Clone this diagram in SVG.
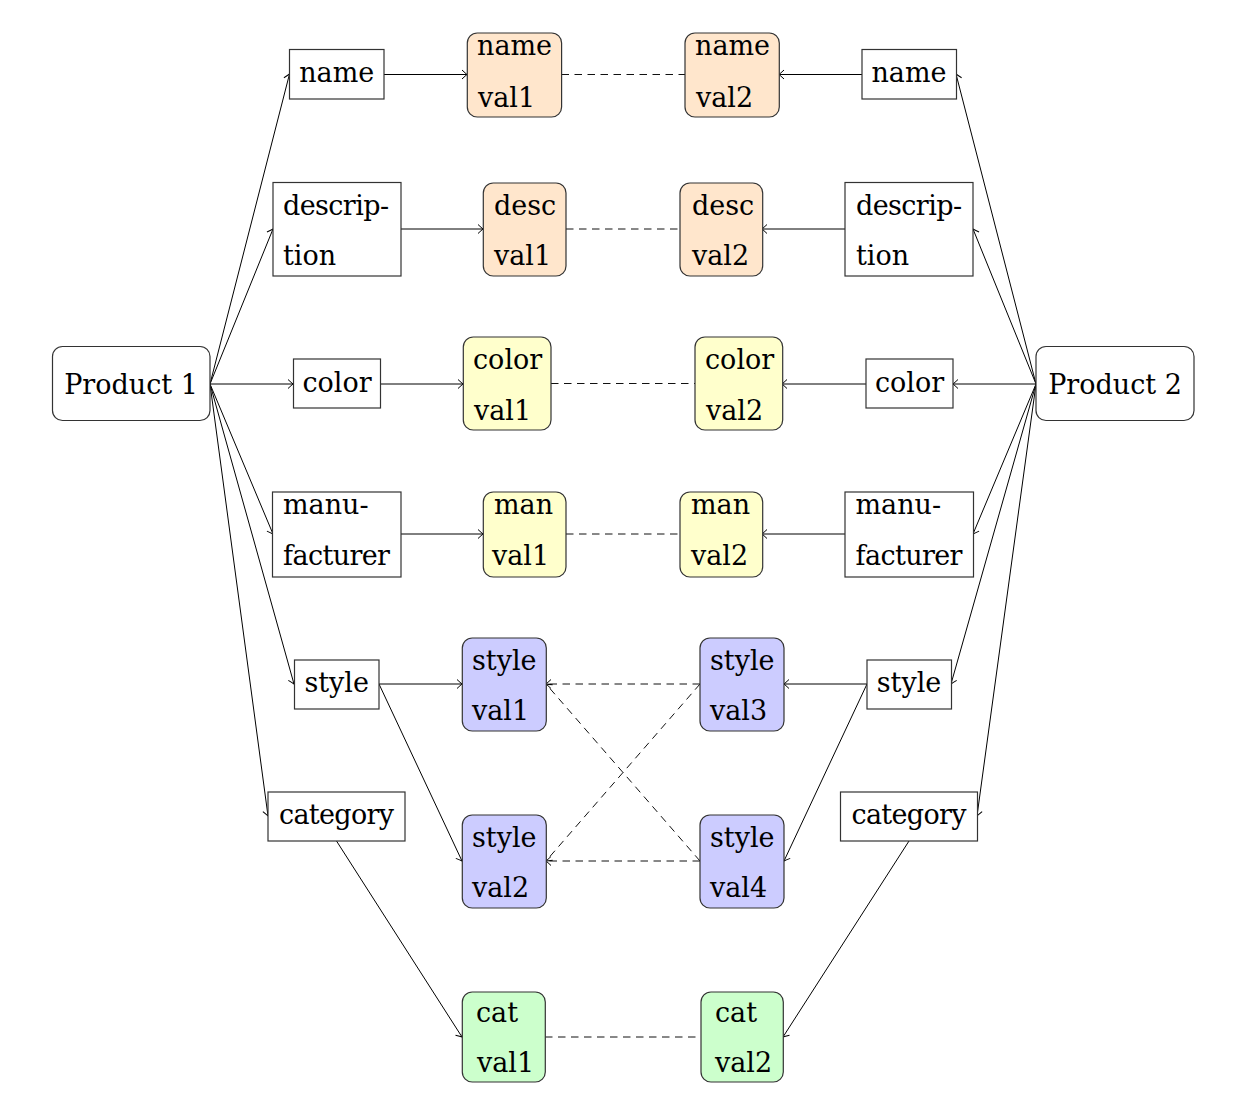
<svg xmlns="http://www.w3.org/2000/svg" width="1248" height="1112" viewBox="0 0 1248 1112">
<style>
text{font-family:'DejaVu Serif',serif;font-size:27px;fill:#000}
.c{text-anchor:middle}
.box{fill:#fff;stroke:#333;stroke-width:1.2}
.rnd{stroke:#333;stroke-width:1.2}
.or{fill:#ffe6cc}.ye{fill:#ffffcc}.bl{fill:#ccccff}.gr{fill:#ccffcc}.wh{fill:#fff}
.e{fill:none;stroke:#000;stroke-width:1}
.a{marker-end:url(#to)}
.d{fill:none;stroke:#111;stroke-width:1;stroke-dasharray:7.5 5.5}
</style>
<defs>
<marker id="to" markerUnits="userSpaceOnUse" markerWidth="12" markerHeight="12" viewBox="-7 -6 8 12" refX="0" refY="0" orient="auto" overflow="visible">
<path d="M-5,-4.5 Q-1.5,-1.2 0,0 Q-1.5,1.2 -5,4.5" fill="none" stroke="#000" stroke-width="1"/>
</marker>
</defs>
<g id="connectors">
<path class="e a" d="M210,384 L289.5,74"/>
<path class="e a" d="M210,384 L273,229"/>
<path class="e a" d="M210,384 L293,384"/>
<path class="e a" d="M210,384 L273,534"/>
<path class="e a" d="M210,384 L294,684"/>
<path class="e a" d="M210,384 L268,816"/>
<path class="e a" d="M1036,384 L956,74"/>
<path class="e a" d="M1036,384 L973,229"/>
<path class="e a" d="M1036,384 L953,384"/>
<path class="e a" d="M1036,384 L973,534"/>
<path class="e a" d="M1036,384 L951,684"/>
<path class="e a" d="M1036,384 L977,816"/>
<path class="e a" d="M384,74.5 L467,74.5"/>
<path class="e a" d="M401,229 L483,229"/>
<path class="e a" d="M381,384 L463,384"/>
<path class="e a" d="M401,534 L483,534"/>
<path class="e a" d="M379,684 L462,684"/>
<path class="e a" d="M379,684 L462,861"/>
<path class="e a" d="M336.5,841 L462,1037"/>
<path class="e a" d="M862,74.5 L779,74.5"/>
<path class="e a" d="M845,229 L762,229"/>
<path class="e a" d="M866,384 L782,384"/>
<path class="e a" d="M845,534 L762,534"/>
<path class="e a" d="M867,684 L784,684"/>
<path class="e a" d="M867,684 L784,861"/>
<path class="e a" d="M909,841 L783,1037"/>
<path class="d" d="M561.5,74.5 L685,74.5"/>
<path class="d" d="M566,229 L680,229"/>
<path class="d" d="M551,383.5 L695,383.5"/>
<path class="d" d="M566,534 L680,534"/>
<path class="d" d="M545,1037 L701,1037"/>
<path class="d a" d="M700,684 L546,684"/>
<path class="d a" d="M700,861 L546,684"/>
<path class="d a" d="M700,684 L546,861"/>
<path class="d a" d="M700,861 L546,861"/>
</g>
<g id="product1"><rect class="rnd wh" x="52.5" y="346.5" width="157.5" height="74" rx="10"/><text class="c" x="131" y="394">Product 1</text></g>
<g id="product2"><rect class="rnd wh" x="1036" y="346.5" width="158" height="74" rx="10"/><text class="c" x="1115" y="394">Product 2</text></g>
<g id="name1"><rect class="box" x="289.5" y="49.5" width="94.5" height="49.5"/><text class="c" x="336.7" y="82">name</text></g>
<g id="desc1"><rect class="box" x="273" y="182.5" width="128" height="93.5"/><text x="283" y="215" textLength="106">descrip-</text><text x="283" y="265">tion</text></g>
<g id="color1"><rect class="box" x="293.5" y="359" width="87" height="49"/><text class="c" x="337" y="392">color</text></g>
<g id="manu1"><rect class="box" x="272.5" y="492" width="128.5" height="85"/><text x="283" y="514">manu-</text><text x="283" y="565" textLength="107">facturer</text></g>
<g id="style1"><rect class="box" x="294.5" y="660" width="84.5" height="49"/><text class="c" x="336.7" y="692">style</text></g>
<g id="category1"><rect class="box" x="268" y="792" width="137" height="49"/><text class="c" x="336.5" y="824" textLength="115">category</text></g>
<g id="name2"><rect class="box" x="862" y="49.5" width="94.5" height="49.5"/><text class="c" x="909" y="82">name</text></g>
<g id="desc2"><rect class="box" x="845" y="182.5" width="128" height="93.5"/><text x="856" y="215" textLength="106">descrip-</text><text x="856" y="265">tion</text></g>
<g id="color2"><rect class="box" x="866" y="359" width="87" height="49"/><text class="c" x="909.5" y="392">color</text></g>
<g id="manu2"><rect class="box" x="845" y="492" width="128.5" height="85"/><text x="855.5" y="514">manu-</text><text x="855.5" y="565" textLength="107">facturer</text></g>
<g id="style2"><rect class="box" x="867" y="660" width="84.5" height="49"/><text class="c" x="909" y="692">style</text></g>
<g id="category2"><rect class="box" x="840.5" y="792" width="137" height="49"/><text class="c" x="909" y="824" textLength="115">category</text></g>
<g id="nameval1"><rect class="rnd or" x="467.3" y="33" width="94.3" height="84" rx="10"/><text x="477" y="55">name</text><text x="478" y="107">val1</text></g>
<g id="nameval2"><rect class="rnd or" x="685" y="33" width="94.3" height="84" rx="10"/><text x="695" y="55">name</text><text x="696" y="107">val2</text></g>
<g id="descval1"><rect class="rnd or" x="483.3" y="183" width="82.7" height="93" rx="10"/><text x="494" y="215">desc</text><text x="494" y="265">val1</text></g>
<g id="descval2"><rect class="rnd or" x="680" y="183" width="82.7" height="93" rx="10"/><text x="692" y="215">desc</text><text x="692" y="265">val2</text></g>
<g id="colorval1"><rect class="rnd ye" x="463.3" y="337" width="87.7" height="93" rx="10"/><text x="473" y="369">color</text><text x="474" y="420">val1</text></g>
<g id="colorval2"><rect class="rnd ye" x="695" y="337" width="87.7" height="93" rx="10"/><text x="705" y="369">color</text><text x="706" y="420">val2</text></g>
<g id="manval1"><rect class="rnd ye" x="483.3" y="492" width="82.7" height="85" rx="10"/><text x="494" y="514">man</text><text x="492" y="565">val1</text></g>
<g id="manval2"><rect class="rnd ye" x="680" y="492" width="82.7" height="85" rx="10"/><text x="691" y="514">man</text><text x="691" y="565">val2</text></g>
<g id="styleval1"><rect class="rnd bl" x="462.3" y="638" width="84" height="93" rx="10"/><text x="472" y="670">style</text><text x="472" y="720">val1</text></g>
<g id="styleval2"><rect class="rnd bl" x="462.3" y="815" width="84" height="93" rx="10"/><text x="472" y="847">style</text><text x="472" y="897">val2</text></g>
<g id="styleval3"><rect class="rnd bl" x="700" y="638" width="84" height="93" rx="10"/><text x="710" y="670">style</text><text x="710" y="720">val3</text></g>
<g id="styleval4"><rect class="rnd bl" x="700" y="815" width="84" height="93" rx="10"/><text x="710" y="847">style</text><text x="710" y="897">val4</text></g>
<g id="catval1"><rect class="rnd gr" x="462.3" y="992" width="83" height="90" rx="10"/><text x="476" y="1022">cat</text><text x="477" y="1072">val1</text></g>
<g id="catval2"><rect class="rnd gr" x="701" y="992" width="82.3" height="90" rx="10"/><text x="715" y="1022">cat</text><text x="715" y="1072">val2</text></g>
</svg>
